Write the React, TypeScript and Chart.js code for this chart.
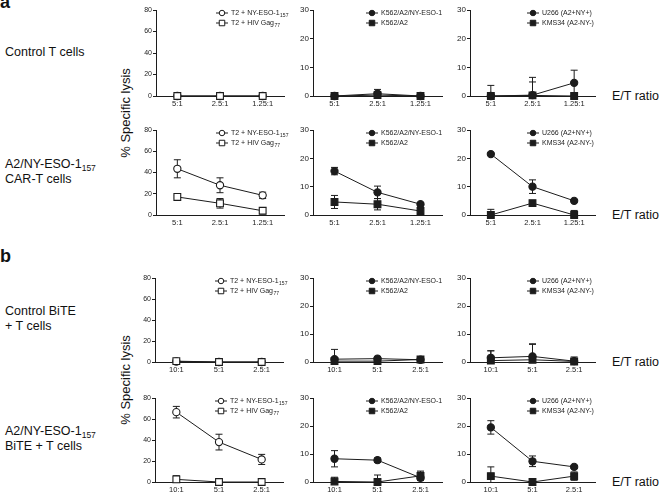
import React, { useEffect, useRef } from "react";
import { Chart, registerables } from "chart.js";

Chart.register(...registerables);

const FONT = '"Liberation Sans", Arial, Helvetica, sans-serif';
const INK = "#1c1c1c";

// ---------- categories ----------
const ratiosA = ["5:1", "2.5:1", "1.25:1"];
const ratiosB = ["10:1", "5:1", "2.5:1"];

// ---------- legend labels ----------
const lblT2Ny = ["T2 + NY-ESO-1", "157"];
const lblT2Gag = ["T2 + HIV Gag", "77"];
const lblK562Ny = ["K562/A2/NY-ESO-1", ""];
const lblK562 = ["K562/A2", ""];
const lblU266 = ["U266 (A2+NY+)", ""];
const lblKms34 = ["KMS34 (A2-NY-)", ""];

// ---------- panel a: Control T cells ----------
const aCtrlT2Ny = [0, 0, 0];
const aCtrlT2NyErr = [0, 0, 0];
const aCtrlT2Gag = [0, 0, 0];
const aCtrlT2GagErr = [0, 0, 0];
const aCtrlK562Ny = [0, 0.8, 0];
const aCtrlK562NyErr = [0, 1.5, 0];
const aCtrlK562 = [0, 0.3, 0];
const aCtrlK562Err = [0, 0.5, 0];
const aCtrlU266 = [0, 0.3, 4.6];
const aCtrlU266Err = [0, 6.2, 4.4];
const aCtrlKms34 = [0, 0.2, 0];
const aCtrlKms34Err = [3.7, 4.7, 0];

// ---------- panel a: A2/NY-ESO-1(157) CAR-T cells ----------
const aCarT2Ny = [43.5, 28, 18.5];
const aCarT2NyErr = [8.5, 7, 3];
const aCarT2Gag = [17, 11, 4];
const aCarT2GagErr = [1, 4.5, 3];
const aCarK562Ny = [15.5, 8, 3.8];
const aCarK562NyErr = [1.3, 2.2, 0.5];
const aCarK562 = [4.6, 3.8, 1.4];
const aCarK562Err = [2.3, 2, 1];
const aCarU266 = [21.5, 10, 5];
const aCarU266Err = [0.3, 2.4, 0.4];
const aCarKms34 = [0, 4.2, 0];
const aCarKms34Err = [2, 0.7, 1.6];

// ---------- panel b: Control BiTE + T cells ----------
const bCtrlT2Ny = [0.5, 0, 0];
const bCtrlT2NyErr = [0.5, 0, 0];
const bCtrlT2Gag = [0.8, 0, 0];
const bCtrlT2GagErr = [0.3, 0, 0];
const bCtrlK562Ny = [1.0, 1.2, 0.8];
const bCtrlK562NyErr = [3.5, 0.8, 0.5];
const bCtrlK562 = [0.3, 0.3, 0.9];
const bCtrlK562Err = [1.2, 0.5, 0.3];
const bCtrlU266 = [1.5, 2.0, 0.3];
const bCtrlU266Err = [2.5, 4.5, 1.5];
const bCtrlKms34 = [0.5, 0.8, 0.2];
const bCtrlKms34Err = [3.5, 5.5, 1.0];

// ---------- panel b: A2/NY-ESO-1(157) BiTE + T cells ----------
const bBiteT2Ny = [66.5, 38, 21.5];
const bBiteT2NyErr = [5.5, 7.5, 4.8];
const bBiteT2Gag = [2.5, 0, 0];
const bBiteT2GagErr = [3.5, 0, 0];
const bBiteK562Ny = [8.3, 7.8, 1.5];
const bBiteK562NyErr = [2.9, 0.8, 2];
const bBiteK562 = [0.2, 0, 2.2];
const bBiteK562Err = [1.5, 2.5, 1.7];
const bBiteU266 = [19.5, 7.4, 5.4];
const bBiteU266Err = [2.4, 1.9, 0.5];
const bBiteKms34 = [2.1, 0, 2.1];
const bBiteKms34Err = [3.3, 0, 1.5];

// ---------- axis ranges ----------
const peptideMax = 80;
const peptideStep = 20;
const cellMax = 30;
const cellStep = 10;

// ---------- layout ----------
const rowTop = [10, 130, 278, 398];
const rowZero = [96, 215, 362, 482];
const colAxisX = [
  [156, 313, 470],
  [155, 313, 470],
];
const colWidth = [128, 129, 125];
const legendMarkerOff = [66, 59, 63];
const PADL = 32;
const PADT = 12;
const PADR = 12;
const PADB = 22;

type Series = {
  label: string[];
  data: number[];
  err: number[];
  filled: boolean;
  shape: "circle" | "rect";
};

type Panel = {
  row: number;
  col: number;
  cats: string[];
  max: number;
  step: number;
  series: Series[];
};

const S = (label: string[], data: number[], err: number[], filled: boolean, shape: "circle" | "rect"): Series => ({
  label,
  data,
  err,
  filled,
  shape,
});

const panels: Panel[] = [
  { row: 0, col: 0, cats: ratiosA, max: peptideMax, step: peptideStep, series: [S(lblT2Gag, aCtrlT2Gag, aCtrlT2GagErr, false, "rect"), S(lblT2Ny, aCtrlT2Ny, aCtrlT2NyErr, false, "circle")] },
  { row: 0, col: 1, cats: ratiosA, max: cellMax, step: cellStep, series: [S(lblK562, aCtrlK562, aCtrlK562Err, true, "rect"), S(lblK562Ny, aCtrlK562Ny, aCtrlK562NyErr, true, "circle")] },
  { row: 0, col: 2, cats: ratiosA, max: cellMax, step: cellStep, series: [S(lblKms34, aCtrlKms34, aCtrlKms34Err, true, "rect"), S(lblU266, aCtrlU266, aCtrlU266Err, true, "circle")] },
  { row: 1, col: 0, cats: ratiosA, max: peptideMax, step: peptideStep, series: [S(lblT2Gag, aCarT2Gag, aCarT2GagErr, false, "rect"), S(lblT2Ny, aCarT2Ny, aCarT2NyErr, false, "circle")] },
  { row: 1, col: 1, cats: ratiosA, max: cellMax, step: cellStep, series: [S(lblK562, aCarK562, aCarK562Err, true, "rect"), S(lblK562Ny, aCarK562Ny, aCarK562NyErr, true, "circle")] },
  { row: 1, col: 2, cats: ratiosA, max: cellMax, step: cellStep, series: [S(lblKms34, aCarKms34, aCarKms34Err, true, "rect"), S(lblU266, aCarU266, aCarU266Err, true, "circle")] },
  { row: 2, col: 0, cats: ratiosB, max: peptideMax, step: peptideStep, series: [S(lblT2Gag, bCtrlT2Gag, bCtrlT2GagErr, false, "rect"), S(lblT2Ny, bCtrlT2Ny, bCtrlT2NyErr, false, "circle")] },
  { row: 2, col: 1, cats: ratiosB, max: cellMax, step: cellStep, series: [S(lblK562, bCtrlK562, bCtrlK562Err, true, "rect"), S(lblK562Ny, bCtrlK562Ny, bCtrlK562NyErr, true, "circle")] },
  { row: 2, col: 2, cats: ratiosB, max: cellMax, step: cellStep, series: [S(lblKms34, bCtrlKms34, bCtrlKms34Err, true, "rect"), S(lblU266, bCtrlU266, bCtrlU266Err, true, "circle")] },
  { row: 3, col: 0, cats: ratiosB, max: peptideMax, step: peptideStep, series: [S(lblT2Gag, bBiteT2Gag, bBiteT2GagErr, false, "rect"), S(lblT2Ny, bBiteT2Ny, bBiteT2NyErr, false, "circle")] },
  { row: 3, col: 1, cats: ratiosB, max: cellMax, step: cellStep, series: [S(lblK562, bBiteK562, bBiteK562Err, true, "rect"), S(lblK562Ny, bBiteK562Ny, bBiteK562NyErr, true, "circle")] },
  { row: 3, col: 2, cats: ratiosB, max: cellMax, step: cellStep, series: [S(lblKms34, bBiteKms34, bBiteKms34Err, true, "rect"), S(lblU266, bBiteU266, bBiteU266Err, true, "circle")] },
];

function drawMarker(ctx: CanvasRenderingContext2D, s: Series, x: number, y: number, size: number) {
  ctx.beginPath();
  if (s.shape === "circle") {
    ctx.arc(x, y, size / 2, 0, Math.PI * 2);
  } else {
    ctx.rect(x - size / 2, y - size / 2, size, size);
  }
  ctx.fillStyle = s.filled ? INK : "#ffffff";
  ctx.fill();
  ctx.lineWidth = 1;
  ctx.strokeStyle = INK;
  ctx.stroke();
}

function MiniChart({ p }: { p: Panel }) {
  const ref = useRef<HTMLCanvasElement>(null);
  const block = p.row < 2 ? 0 : 1;
  const axisX = colAxisX[block][p.col];
  const plotW = colWidth[p.col];
  const plotH = rowZero[p.row] - rowTop[p.row];
  const w = PADL + plotW + PADR;
  const h = PADT + plotH + PADB;
  const left = axisX - PADL;
  const top = rowTop[p.row] - PADT;
  const tickSize = p.col === 0 ? 7 : 8;

  useEffect(() => {
    const series = p.series;
    const errorBars = {
      id: "errorBars",
      beforeDatasetsDraw(chart: any) {
        const { ctx, chartArea, scales } = chart;
        const y = scales.y;
        ctx.save();
        ctx.beginPath();
        ctx.rect(chartArea.left - 10, 0, chartArea.right - chartArea.left + 20, chartArea.bottom);
        ctx.clip();
        ctx.strokeStyle = INK;
        ctx.lineWidth = 1;
        chart.data.datasets.forEach((ds: any, di: number) => {
          const meta = chart.getDatasetMeta(di);
          const errs: number[] = series[di].err;
          errs.forEach((e, i) => {
            if (!e) return;
            const v = ds.data[i];
            const px = meta.data[i].x;
            const yHi = y.getPixelForValue(v + e);
            const yLo = y.getPixelForValue(v - e);
            ctx.beginPath();
            ctx.moveTo(px, yLo);
            ctx.lineTo(px, yHi);
            ctx.moveTo(px - 3.5, yHi);
            ctx.lineTo(px + 3.5, yHi);
            if (v - e >= 0) {
              ctx.moveTo(px - 3.5, yLo);
              ctx.lineTo(px + 3.5, yLo);
            }
            ctx.stroke();
          });
        });
        ctx.restore();
      },
    };
    const miniLegend = {
      id: "miniLegend",
      afterDraw(chart: any) {
        const { ctx, chartArea } = chart;
        ctx.save();
        const ordered = [series[1], series[0]];
        ordered.forEach((s, i) => {
          const y = chartArea.top + 3 + i * 10;
          const mx = chartArea.left + legendMarkerOff[p.col];
          ctx.strokeStyle = INK;
          ctx.lineWidth = 1;
          ctx.beginPath();
          ctx.moveTo(mx - 6, y);
          ctx.lineTo(mx + 6, y);
          ctx.stroke();
          drawMarker(ctx, s, mx, y, 5.5);
          ctx.fillStyle = INK;
          ctx.textAlign = "left";
          ctx.textBaseline = "middle";
          ctx.font = `7px ${FONT}`;
          const tx = mx + 9;
          ctx.fillText(s.label[0], tx, y);
          if (s.label[1]) {
            const tw = ctx.measureText(s.label[0]).width;
            ctx.font = `5px ${FONT}`;
            ctx.fillText(s.label[1], tx + tw + 0.5, y + 2.5);
          }
        });
        ctx.restore();
      },
    };

    const chart = new Chart(ref.current as HTMLCanvasElement, {
      type: "line",
      data: {
        labels: p.cats,
        datasets: series.map((s) => ({
          label: s.label.join(""),
          data: s.data,
          borderColor: INK,
          borderWidth: 1,
          tension: 0,
          clip: false as any,
          pointStyle: s.shape,
          pointRadius: s.shape === "circle" ? 3.6 : 4.8,
          pointHoverRadius: s.shape === "circle" ? 3.6 : 4.8,
          pointBackgroundColor: s.filled ? INK : "#ffffff",
          pointBorderColor: INK,
          pointBorderWidth: 1.1,
        })),
      },
      options: {
        animation: false,
        responsive: false,
        devicePixelRatio: 1,
        events: [],
        layout: { padding: { left: 0, top: PADT, right: PADR, bottom: 0 } },
        plugins: { legend: { display: false }, tooltip: { enabled: false } },
        scales: {
          x: {
            type: "category",
            offset: true,
            grid: { display: false, drawTicks: false },
            border: { display: true, color: INK, width: 1 },
            ticks: { color: INK, font: { family: FONT, size: 7.5 }, padding: 3, maxRotation: 0, autoSkip: false },
            afterFit: (s: any) => {
              s.height = PADB;
            },
          },
          y: {
            min: 0,
            max: p.max,
            grid: { drawOnChartArea: false, drawTicks: true, tickLength: 3, color: INK, lineWidth: 1 },
            border: { display: true, color: INK, width: 1 },
            ticks: { stepSize: p.step, color: INK, font: { family: FONT, size: tickSize }, padding: 1 },
            afterFit: (s: any) => {
              s.width = PADL;
            },
          },
        },
      } as any,
      plugins: [errorBars, miniLegend],
    });
    return () => chart.destroy();
  }, []);

  return (
    <canvas
      ref={ref}
      width={w}
      height={h}
      style={{ position: "absolute", left, top, width: w, height: h }}
    />
  );
}

const textBase: React.CSSProperties = {
  position: "absolute",
  fontFamily: FONT,
  color: "#111",
  whiteSpace: "nowrap",
};

function Sub({ children }: { children: React.ReactNode }) {
  return (
    <span style={{ fontSize: 8.5, position: "relative", top: 3, lineHeight: 0 }}>{children}</span>
  );
}

export default function App() {
  const rowLabelStyle: React.CSSProperties = { ...textBase, fontSize: 12.5, lineHeight: "14.5px", left: 5 };
  return (
    <div
      style={{
        position: "absolute",
        left: 0,
        top: 0,
        width: 660,
        height: 494,
        overflow: "hidden",
        background: "#ffffff",
      }}
    >
      <div style={{ ...textBase, fontSize: 18, fontWeight: "bold", lineHeight: "18px", left: 0, top: -7 }}>a</div>
      <div style={{ ...textBase, fontSize: 18, fontWeight: "bold", lineHeight: "18px", left: 0, top: 247 }}>b</div>

      <div style={{ ...rowLabelStyle, top: 45 }}>Control T cells</div>
      <div style={{ ...rowLabelStyle, top: 157 }}>
        A2/NY-ESO-1<Sub>157</Sub>
        <br />
        CAR-T cells
      </div>
      <div style={{ ...rowLabelStyle, top: 304 }}>
        Control BiTE
        <br />+ T cells
      </div>
      <div style={{ ...rowLabelStyle, top: 424 }}>
        A2/NY-ESO-1<Sub>157</Sub>
        <br />
        BiTE + T cells
      </div>

      <div
        style={{
          ...textBase,
          fontSize: 13,
          lineHeight: "13px",
          left: 125,
          top: 113,
          transform: "translate(-50%, -50%) rotate(-90deg)",
        }}
      >
        % Specific lysis
      </div>
      <div
        style={{
          ...textBase,
          fontSize: 13,
          lineHeight: "13px",
          left: 125,
          top: 380,
          transform: "translate(-50%, -50%) rotate(-90deg)",
        }}
      >
        % Specific lysis
      </div>

      {rowZero.map((z, i) => (
        <div key={i} style={{ ...textBase, fontSize: 12.5, lineHeight: "12.5px", left: 612, top: z - 6 }}>
          E/T ratio
        </div>
      ))}

      {panels.map((p, i) => (
        <MiniChart key={i} p={p} />
      ))}
    </div>
  );
}
